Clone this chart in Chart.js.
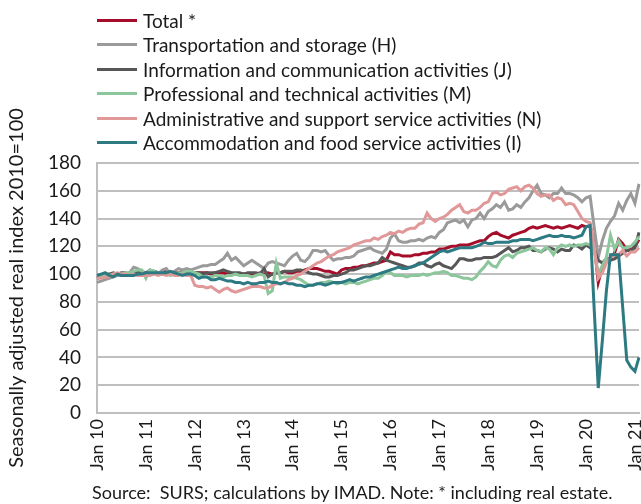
<!DOCTYPE html>
<html>
<head>
<meta charset="utf-8">
<script src="https://cdn.jsdelivr.net/npm/chart.js@4"></script>
<style>
  html, body { margin: 0; padding: 0; background: #fff; }
  #wrap { position: relative; width: 641px; height: 504px; overflow: hidden; font-family: Lato, "Liberation Sans", sans-serif; color: #1a1a1a; }
  #c { position: absolute; left: 0; top: 0; }
  #legend { position: absolute; left: 97px; top: 8px; }
  .row { height: 24.5px; display: flex; align-items: center; font-size: 19px; white-space: nowrap; }
  .sw { display: inline-block; width: 40px; height: 3px; margin-right: 6px; }
  #source { position: absolute; left: 92px; top: 481px; font-size: 18px; white-space: nowrap; }
</style>
</head>
<body>
<div id="wrap">
  <canvas id="c" width="641" height="504"></canvas>
  <div id="legend"></div>
  <div id="source">Source:&nbsp; SURS; calculations by IMAD. Note: * including real estate.</div>
</div>
<script>
// ---- categories ----
const monthNames = ['Jan','Feb','Mar','Apr','May','Jun','Jul','Aug','Sep','Oct','Nov','Dec'];
const yearLabels = ['10','11','12','13','14','15','16','17','18','19','20','21'];
const lastMonthOf2021 = 2; // data runs Jan 2010 .. Feb 2021

const seriesNames = [
  'Total *',
  'Transportation and storage (H)',
  'Information and communication activities (J)',
  'Professional and technical activities (M)',
  'Administrative and support service activities (N)',
  'Accommodation and food service activities (I)'
];

// ---- series values (monthly, Jan 2010 - Feb 2021) ----
const total = [
  97,98,98,99,99,100,100,100,101,100,101,101,
  101,101,102,101,101,102,101,101,101,102,101,101,
  101,101,101,101,100,101,101,101,100,100,100,100,
  100,100,100,100,101,100,101,100,101,101,102,101,
  101,102,102,103,104,104,104,103,102,102,101,100,
  103,104,104,105,105,106,106,107,108,108,109,110,
  116,114,114,113,113,113,114,114,115,115,116,116,
  118,118,119,120,120,121,121,121,122,123,124,124,
  127,129,130,128,127,126,128,129,130,131,133,134,
  133,134,135,134,133,134,133,134,135,134,133,135,
  134,135,122,94,105,110,112,115,125,122,117,118,
  120,125
];
const transport = [
  94,95,96,97,98,99,99,100,101,105,104,102,
  101,103,102,100,103,104,100,102,104,103,104,103,
  104,105,106,106,107,107,109,111,115,110,112,109,
  106,108,110,108,106,104,108,109,108,107,106,110,
  113,115,110,109,112,117,117,116,117,113,110,111,
  111,112,112,113,116,117,118,119,117,116,115,118,
  126,129,124,123,123,124,124,125,124,126,127,126,
  130,132,137,138,139,137,139,134,139,140,144,140,
  145,147,150,148,152,146,147,150,148,152,155,160,
  164,158,157,155,158,158,162,158,158,157,155,152,
  155,156,134,112,124,133,138,142,151,146,153,158,
  151,165
];
const information = [
  99,99,100,100,101,100,101,101,100,101,101,100,
  101,101,102,101,100,101,100,101,100,100,101,101,
  101,101,100,101,101,101,102,103,102,101,101,101,
  100,101,101,101,100,104,98,100,101,101,102,102,
  102,103,103,102,101,100,100,99,98,98,99,99,
  100,101,103,103,104,105,106,106,107,108,112,110,
  109,108,107,106,105,105,106,108,108,106,105,107,
  108,106,105,104,107,111,111,110,110,111,111,112,
  112,112,113,115,117,119,116,117,119,119,120,117,
  117,116,118,119,118,116,118,117,117,121,120,118,
  121,119,118,110,108,111,110,111,113,115,117,117,
  119,130
];
const professional = [
  98,98,99,99,100,100,100,101,101,102,103,103,
  97,103,102,101,101,100,99,100,101,101,102,102,
  101,100,98,98,98,99,99,98,99,99,100,99,
  99,99,98,99,100,99,86,88,108,97,98,98,
  98,97,96,94,92,92,93,94,94,95,94,93,
  94,93,94,94,93,94,95,96,97,97,99,102,
  101,99,99,99,98,99,99,99,100,99,100,101,
  101,102,101,99,99,98,97,97,96,98,102,105,
  109,106,105,110,113,114,112,115,116,117,118,119,
  117,116,119,118,114,119,121,120,121,120,121,121,
  122,121,117,100,106,112,128,118,124,119,119,120,
  123,127
];
const administrative = [
  97,97,98,98,100,101,100,100,99,100,99,99,
  99,99,100,99,100,99,100,99,99,100,99,99,
  92,91,91,90,91,89,87,89,90,88,87,88,
  89,90,91,91,91,90,90,92,93,93,94,96,
  97,99,100,102,104,106,108,109,111,113,114,116,
  117,118,119,121,122,123,124,124,126,125,127,128,
  130,129,131,130,132,133,133,136,137,144,140,138,
  140,141,143,146,148,150,145,144,146,146,148,151,
  152,158,159,157,158,161,162,163,160,163,164,162,
  158,156,157,157,153,155,154,150,151,150,145,140,
  138,137,120,97,101,108,112,114,114,117,113,116,
  116,119
];
const accommodation = [
  99,100,101,99,98,100,99,99,99,99,100,100,
  101,101,101,101,101,101,102,101,100,99,100,100,
  99,97,98,98,96,96,97,96,95,95,94,94,
  93,94,93,93,94,94,95,94,94,93,94,93,
  93,92,92,91,92,92,93,93,92,93,94,94,
  94,95,96,95,96,97,98,98,99,100,101,102,
  103,104,105,104,104,105,106,107,108,110,112,114,
  116,117,116,117,118,119,119,119,119,120,121,123,
  122,122,123,123,123,123,124,124,125,125,125,124,
  125,126,127,128,127,127,128,127,127,126,127,128,
  134,135,75,18,52,88,114,114,114,76,38,33,
  30,40
];
const yTicks = [0,20,40,60,80,100,120,140,160,180];

// ---- build category labels ----
const labels = [];
yearLabels.forEach((yy, yi) => {
  const n = (yi === yearLabels.length - 1) ? lastMonthOf2021 : 12;
  for (let m = 0; m < n; m++) labels.push(monthNames[m] + ' ' + yy);
});

const colors = ['#a50d2a', '#9a9a9a', '#575757', '#8cc79c', '#e09898', '#2d7a83'];
const values = [total, transport, information, professional, administrative, accommodation];

// HTML legend (vertical list)
const legend = document.getElementById('legend');
seriesNames.forEach((name, i) => {
  const row = document.createElement('div');
  row.className = 'row';
  const sw = document.createElement('span');
  sw.className = 'sw';
  sw.style.background = colors[i];
  row.appendChild(sw);
  row.appendChild(document.createTextNode(name));
  legend.appendChild(row);
});

const FONT = 'Lato, "Liberation Sans", sans-serif';

new Chart(document.getElementById('c'), {
  type: 'line',
  data: {
    labels: labels,
    datasets: values.map((v, i) => ({
      label: seriesNames[i],
      data: v,
      borderColor: colors[i],
      backgroundColor: colors[i],
      borderWidth: 3,
      pointRadius: 0,
      tension: 0,
      fill: false,
      order: values.length - i
    }))
  },
  options: {
    responsive: false,
    animation: false,
    devicePixelRatio: 1,
    layout: { padding: { top: 163, right: 2, left: 0, bottom: 0 } },
    plugins: { legend: { display: false }, tooltip: { enabled: false } },
    scales: {
      x: {
        type: 'category',
        offset: false,
        grid: { display: false, drawTicks: false },
        border: { display: true, color: '#bfbfbf', width: 2 },
        ticks: {
          autoSkip: false,
          maxRotation: 90,
          minRotation: 90,
          padding: 6,
          color: '#1a1a1a',
          font: { family: FONT, size: 18 },
          callback: (val, idx) => (idx % 12 === 0 ? labels[idx] : null)
        },
        afterFit: (s) => { s.height = 91; s.paddingLeft = 0; s.paddingRight = 0; }
      },
      y: {
        min: 0,
        max: 180,
        afterBuildTicks: (s) => { s.ticks = yTicks.map(v => ({ value: v })); },
        grid: { color: '#bfbfbf', lineWidth: 2, drawTicks: false },
        border: { display: true, color: '#bfbfbf', width: 2 },
        ticks: { padding: 16, color: '#1a1a1a', font: { family: FONT, size: 19 } },
        title: {
          display: true,
          text: 'Seasonally adjusted real index 2010=100',
          color: '#1a1a1a',
          font: { family: FONT, size: 20 },
          padding: { top: 5, bottom: 0 }
        },
        afterFit: (s) => { s.width = 97; }
      }
    }
  }
});
</script>
</body>
</html>
